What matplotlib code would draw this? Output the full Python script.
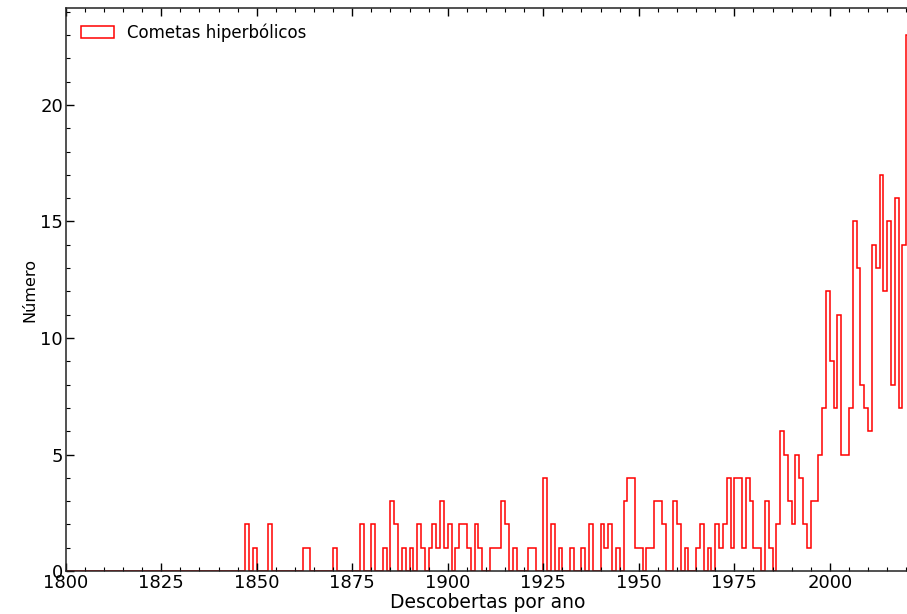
import numpy as np
import matplotlib
matplotlib.use("Agg")
import matplotlib.pyplot as plt
from matplotlib.ticker import MultipleLocator

"""
DATOS
"""
# anos com descobertas (anos sem descobertas tem contagem zero)
anos = [1847, 1849, 1853, 1862, 1863, 1870, 1877, 1880, 1883, 1885,
        1886, 1888, 1890, 1892, 1893, 1895, 1896, 1897, 1898, 1899,
        1900, 1902, 1903, 1904, 1905, 1907, 1908, 1911, 1912, 1913,
        1914, 1915, 1917, 1921, 1922, 1925, 1927, 1929, 1932, 1935,
        1937, 1940, 1941, 1942, 1944, 1946, 1947, 1948, 1949, 1950,
        1952, 1953, 1954, 1955, 1956, 1959, 1960, 1962, 1965, 1966,
        1968, 1970, 1971, 1972, 1973, 1974, 1975, 1976, 1977, 1978,
        1979, 1980, 1981, 1983, 1984, 1986, 1987, 1988, 1989, 1990,
        1991, 1992, 1993, 1994, 1995, 1996, 1997, 1998, 1999, 2000,
        2001, 2002, 2003, 2004, 2005, 2006, 2007, 2008, 2009, 2010,
        2011, 2012, 2013, 2014, 2015, 2016, 2017, 2018, 2019, 2020]
contagem = [2, 1, 2, 1, 1, 1, 2, 2, 1, 3,
            2, 1, 1, 2, 1, 1, 2, 1, 3, 1,
            2, 1, 2, 2, 1, 2, 1, 1, 1, 1,
            3, 2, 1, 1, 1, 4, 2, 1, 1, 1,
            2, 2, 1, 2, 1, 3, 4, 4, 1, 1,
            1, 1, 3, 3, 2, 3, 2, 1, 1, 2,
            1, 2, 1, 2, 4, 1, 4, 4, 1, 4,
            3, 1, 1, 3, 1, 2, 6, 5, 3, 2,
            5, 4, 2, 1, 3, 3, 5, 7, 12, 9,
            7, 11, 5, 5, 7, 15, 13, 8, 7, 6,
            14, 13, 17, 12, 15, 8, 16, 7, 14, 23]

ano_ini = 1800
ano_fim = 2021
xticks = [1800, 1825, 1850, 1875, 1900, 1925, 1950, 1975, 2000]
yticks = [0, 5, 10, 15, 20]

"""
FIGURA
"""
fig = plt.figure(figsize=(9.07, 6.14), dpi=100)
ax = fig.add_axes([0.0724, 0.070, 0.931, 0.9165])

bins = np.arange(ano_ini, ano_fim + 1)
ax.hist(anos, bins=bins, weights=contagem, histtype='step',
        color='red', linewidth=1.1, label='Cometas hiperbólicos', zorder=1)

# eixos por cima da linha de base do histograma
for lado in ax.spines.values():
    lado.set_linewidth(1.1)
    lado.set_color('#222222')
    lado.set_zorder(3)

ax.set_xlim(ano_ini, ano_fim)
ax.set_ylim(0, 24.15)
ax.set_xticks(xticks)
ax.set_yticks(yticks)
ax.xaxis.set_minor_locator(MultipleLocator(5))
ax.yaxis.set_minor_locator(MultipleLocator(1))
ax.tick_params(which='both', direction='in', top=True, right=False,
               labelsize=13, pad=2)
ax.tick_params(which='major', length=6, width=1)
ax.tick_params(which='minor', length=3, width=0.8)

ax.set_xlabel('Descobertas por ano', fontsize=13.5, labelpad=1)
ax.set_ylabel('Número', fontsize=11.5, labelpad=2)
ax.legend(loc='upper left', frameon=False, fontsize=12)

plt.savefig('out.png', dpi=100)
